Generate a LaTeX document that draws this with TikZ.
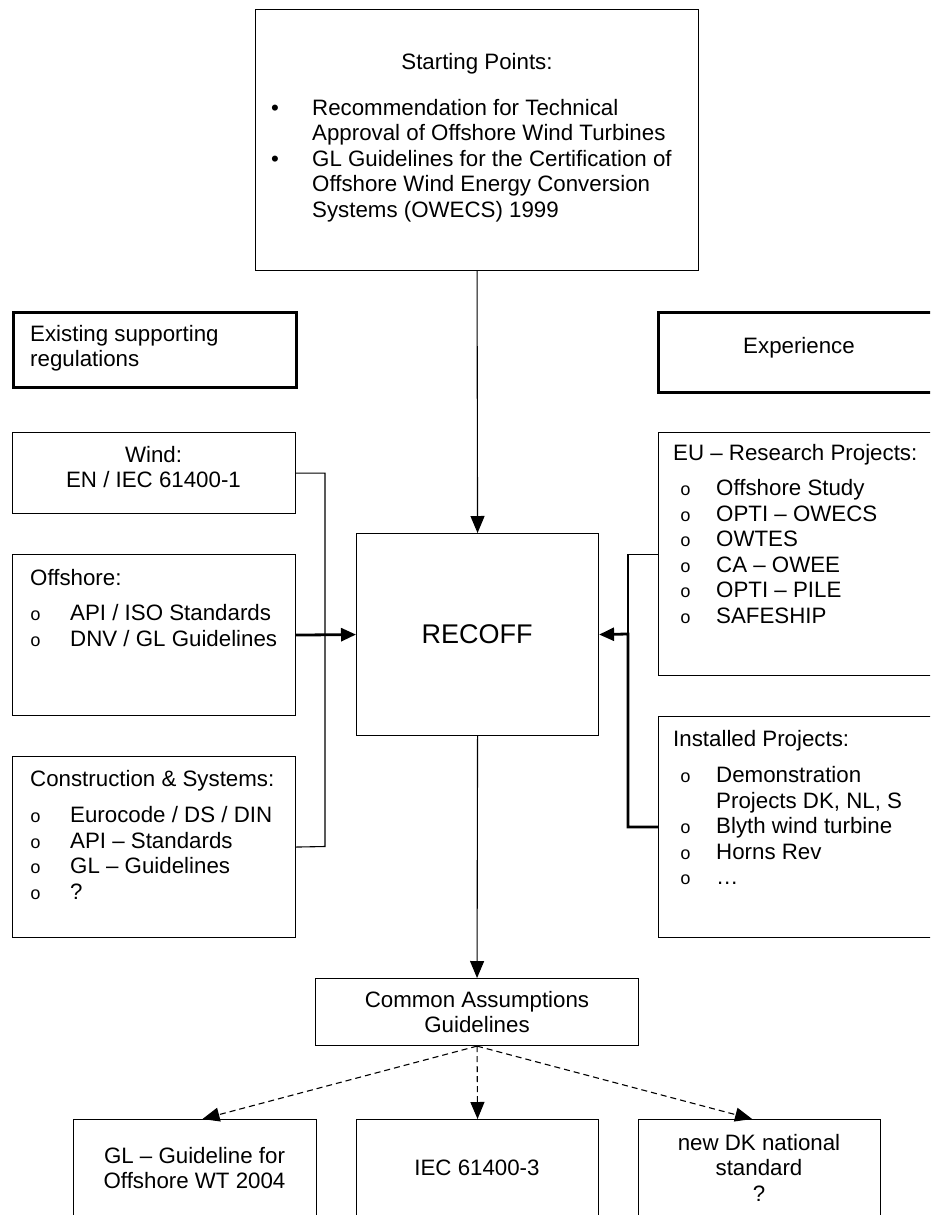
\documentclass[tikz,border=0pt]{standalone}
\usepackage{fontspec}
\setmainfont{Liberation Sans}
\setmonofont{Liberation Mono}
\usetikzlibrary{arrows.meta}
\newcommand\wbul{{\fontsize{18}{18}\selectfont\ttfamily o}}
\begin{document}
\begin{tikzpicture}[x=1pt,y=-1pt,
  box/.style={draw, line width=1.1pt, inner sep=0pt, anchor=north west},
  hbox/.style={draw, line width=2.8pt, inner sep=0pt, anchor=north west},
  txt/.style={inner sep=0pt, font=\fontsize{22.3}{25.5}\selectfont},
  bigtxt/.style={inner sep=0pt, font=\fontsize{27}{30}\selectfont},
  thinln/.style={line width=1.1pt},
  arr/.style={line width=1.1pt, -{Triangle[length=17pt,width=14pt]}},
  tarr/.style={line width=2.8pt, line join=miter, -{Triangle[length=15pt,width=13pt]}},
  darr/.style={line width=1.1pt, dash pattern=on 6pt off 4pt, -{Triangle[length=17pt,width=14pt]}}]
\useasboundingbox (0,0) rectangle (930,1215);
\clip (0,0) rectangle (930,1215);
\fill[white] (0,0) rectangle (930,1215);

% boxes
\node[box, minimum width=443pt, minimum height=261pt] (start) at (255,9) {};
\node[hbox, minimum width=283pt, minimum height=75pt] (exist) at (12,311) {};
\node[hbox, minimum width=284pt, minimum height=80pt] (exper) at (657,311) {};
\node[box, minimum width=283pt, minimum height=81pt] (wind) at (12,432) {};
\node[box, minimum width=283pt, minimum height=161pt] (off) at (12,554) {};
\node[box, minimum width=283pt, minimum height=181pt] (cons) at (12,756) {};
\node[box, minimum width=242pt, minimum height=202pt] (recoff) at (356,533) {};
\node[box, minimum width=284pt, minimum height=243pt] (eu) at (658,432) {};
\node[box, minimum width=284pt, minimum height=221pt] (inst) at (658,716) {};
\node[box, minimum width=323pt, minimum height=67pt] (common) at (315,978) {};
\node[box, minimum width=243pt, minimum height=120pt] (gl) at (73,1119) {};
\node[box, minimum width=242pt, minimum height=120pt] (iec) at (356,1119) {};
\node[box, minimum width=242pt, minimum height=120pt] (dk) at (638,1119) {};

% texts
\node[txt, anchor=base] (startt) at (477,70) {Starting Points:};
\node[txt, anchor=base west] (startl) at (271,115) {\begin{tabular}[t]{@{}p{41pt}@{}l@{}}
\textbullet & Recommendation for Technical\\
 & Approval of Offshore Wind Turbines\\
\textbullet & GL Guidelines for the Certification of\\
 & Offshore Wind Energy Conversion\\
 & Systems (OWECS) 1999
\end{tabular}};
\node[txt, anchor=base west] (existt) at (30,341) {\begin{tabular}[t]{@{}l@{}}Existing supporting\\regulations\end{tabular}};
\node[txt, anchor=base] (expert) at (799,353) {Experience};
\node[txt, anchor=base] (windt) at (153.5,462) {\begin{tabular}[t]{@{}c@{}}Wind:\\EN / IEC 61400-1\end{tabular}};
\node[txt, anchor=base west] (offt) at (30,585) {\begin{tabular}[t]{@{}p{40pt}@{}l@{}}
\multicolumn{2}{@{}l@{}}{Offshore:}\\[10pt]
\wbul & API / ISO Standards\\
\wbul & DNV / GL Guidelines
\end{tabular}};
\node[txt, anchor=base west] (const) at (30,786) {\begin{tabular}[t]{@{}p{40pt}@{}l@{}}
\multicolumn{2}{@{}l@{}}{Construction \& Systems:}\\[11pt]
\wbul & Eurocode / DS / DIN\\
\wbul & API – Standards\\
\wbul & GL – Guidelines\\
\wbul & ?
\end{tabular}};
\node[bigtxt] (recofft) at (477,634) {RECOFF};
\node[txt, anchor=base west] (eut) at (673,460) {\begin{tabular}[t]{@{}p{43pt}@{}l@{}}
\multicolumn{2}{@{}l@{}}{EU – Research Projects:}\\[10pt]
\hspace{7pt}\wbul & Offshore Study\\
\hspace{7pt}\wbul & OPTI – OWECS\\
\hspace{7pt}\wbul & OWTES\\
\hspace{7pt}\wbul & CA – OWEE\\
\hspace{7pt}\wbul & OPTI – PILE\\
\hspace{7pt}\wbul & SAFESHIP
\end{tabular}};
\node[txt, anchor=base west] (instt) at (673,746) {\begin{tabular}[t]{@{}p{43pt}@{}l@{}}
\multicolumn{2}{@{}l@{}}{Installed Projects:}\\[11pt]
\hspace{7pt}\wbul & Demonstration\\
 & Projects DK, NL, S\\
\hspace{7pt}\wbul & Blyth wind turbine\\
\hspace{7pt}\wbul & Horns Rev\\
\hspace{7pt}\wbul & …
\end{tabular}};
\node[txt, anchor=base] (commont) at (477,1007) {\begin{tabular}[t]{@{}c@{}}Common Assumptions\\Guidelines\end{tabular}};
\node[txt, anchor=base] (glt) at (194.5,1163) {\begin{tabular}[t]{@{}c@{}}GL – Guideline for\\Offshore WT 2004\end{tabular}};
\node[txt, anchor=base] (iect) at (477,1175) {IEC 61400-3};
\node[txt, anchor=base] (dkt) at (759,1150) {\begin{tabular}[t]{@{}c@{}}new DK national\\standard\\?\end{tabular}};

% connectors
\draw[arr] (start.south) -- (recoff.north);
\draw[arr] (recoff.south) -- (common.north);
\draw[tarr] (off.east) -- (recoff.west);
\coordinate (lj) at (325,846.5);
\draw[thinln] (wind.east) -| (lj) -- (cons.east);
\coordinate (rj) at (628,634);
\draw[thinln] (eu.west) -| (rj);
\draw[tarr] (inst.west) -| (rj) -- (recoff.east);
\draw[darr] (common.south) -- (gl.83);
\draw[darr] (common.south) -- (iec.north);
\draw[darr] (common.south) -- (dk.97);
\end{tikzpicture}
\end{document}
